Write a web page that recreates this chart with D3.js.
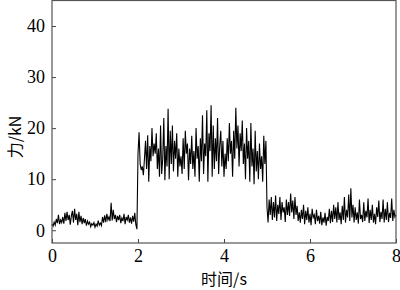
<!DOCTYPE html>
<html>
<head>
<meta charset="utf-8">
<script src="https://cdn.jsdelivr.net/npm/d3@7"></script>
<style>
  body { margin: 0; background: #fff; }
  svg { display: block; }
</style>
</head>
<body>
<svg width="400" height="290"></svg>
<script>
// sample step of the recorded force signal (s)
var dt = 0.025;

// force readings (kN), one every dt from t = 0 to t = 8
var forceStart = [
  1.2, 0.8, 1.6, 1.0, 2.2, 1.4, 3.0, 1.2, 2.0, 1.5,
  2.6, 1.3, 3.4, 1.8, 3.6, 2.0, 3.0, 1.1, 2.8, 3.8,
  1.5, 4.2, 2.0, 3.2, 1.0, 3.6, 1.6, 2.8, 1.2, 2.4,
  1.4, 2.2, 0.9, 1.8, 1.2, 1.6, 0.7, 1.3, 1.0, 1.5,
  0.6, 1.2, 0.8, 1.9, 1.0, 1.4, 0.9, 2.6, 1.5, 2.9,
  1.6, 3.2, 2.0, 2.6, 1.8, 5.4, 1.9, 4.0, 2.2, 3.0,
  1.6, 2.8, 2.0, 3.0, 1.4, 2.4, 1.8, 3.2, 1.2, 2.6,
  2.0, 3.0, 1.5, 2.5, 1.3, 2.8, 1.7, 3.4, 1.1, 0.2
];
var forceCut = [
  15.0, 19.2, 13.0, 11.8, 12.5, 10.8, 14.0, 17.5, 12.0, 18.6,
  9.5, 16.5, 13.5, 20.0, 14.5, 17.0, 15.0, 19.0, 12.0, 16.0,
  10.5, 20.5, 11.0, 14.0, 22.0, 9.8, 16.5, 12.5, 23.8, 10.0,
  19.5, 13.0, 20.5, 11.5, 17.5, 14.0, 19.0, 10.5, 16.0, 12.5,
  14.5, 11.0, 18.0, 12.0, 19.5, 15.0, 17.0, 9.8, 16.0, 13.0,
  18.5, 12.0, 15.5, 10.5, 20.0, 14.0, 16.5, 9.5, 18.0, 13.5,
  22.5, 11.0, 17.0, 14.5, 23.5, 9.5, 19.0, 15.5, 24.5, 10.5,
  20.5, 12.0, 18.0, 13.5, 22.0, 11.0, 16.5, 19.5, 12.5, 17.5,
  10.5, 15.0, 12.0, 18.0, 13.5, 21.0, 15.0, 17.5, 10.5, 19.5,
  14.0, 24.0, 16.0, 20.5, 12.5, 19.0, 15.5, 21.5, 13.0, 17.0,
  10.0, 20.0, 14.0, 17.5, 9.5, 21.0, 12.5, 16.0, 9.0, 19.5,
  11.5, 15.5, 10.0, 17.0, 12.0, 14.5, 9.5, 18.5, 13.0, 17.5
];
var forceEnd = [
  4.5, 1.5, 6.0, 3.0, 6.5, 2.0, 5.5, 2.5, 6.8, 1.8,
  5.0, 3.2, 6.5, 2.0, 5.5, 3.5, 4.5, 1.6, 6.0, 3.0,
  5.5, 2.8, 7.2, 3.5, 5.8, 2.2, 6.5, 3.0, 4.8, 1.8,
  3.5, 1.5, 4.0, 2.2, 5.0, 1.2, 3.8, 2.0, 4.5, 1.5,
  3.2, 1.0, 4.2, 2.5, 3.0, 1.2, 4.0, 1.8, 2.8, 1.3,
  3.6, 1.0, 2.5, 1.5, 3.4, 0.9, 2.6, 1.8, 4.2, 1.4,
  3.8, 1.6, 5.0, 2.2, 4.5, 1.5, 5.5, 2.0, 3.5, 1.2,
  4.8, 2.0, 6.5, 1.5, 4.0, 2.5, 7.0, 1.8, 8.2, 2.5,
  5.0, 1.5, 4.5, 2.0, 3.5, 1.3, 6.0, 2.2, 3.0, 1.6,
  5.5, 1.8, 3.8, 2.5, 6.2, 1.4, 4.0, 2.0, 5.0, 1.5,
  3.2, 1.2, 4.5, 2.6, 5.8, 1.6, 3.6, 2.2, 6.0, 1.5,
  4.2, 2.0, 5.5, 1.6, 3.4, 2.4, 6.2, 1.8, 4.0, 2.6,
  3.0
];

var xTicks = [0, 2, 4, 6, 8];
var yTicks = [0, 10, 20, 30, 40];

var svg = d3.select("svg"),
    plotLeft = 52, plotRight = 396, plotTop = 0.5, plotBottom = 243;

var serif = "'Liberation Serif', 'Times New Roman', 'DejaVu Serif', serif";

var x = d3.scaleLinear().domain([0, 8]).range([plotLeft, plotRight]),
    y = d3.scaleLinear().domain([-2.5, 45]).range([plotBottom, plotTop]);

var data = forceStart.concat(forceCut, forceEnd).map(function(v, i) {
    return {t: i * dt, f: v};
});

// signal
var line = d3.line()
    .x(d => x(d.t))
    .y(d => y(d.f));

svg.append("path")
    .datum(data)
    .attr("d", line)
    .attr("fill", "none")
    .attr("stroke", "#000")
    .attr("stroke-width", 1.1);

// axes, ticks pointing inward
var xAxis = svg.append("g")
    .attr("transform", "translate(0," + plotBottom + ")")
    .call(d3.axisBottom(x).tickValues(xTicks).tickSize(-4).tickPadding(6));

var yAxis = svg.append("g")
    .attr("transform", "translate(" + plotLeft + ",0)")
    .call(d3.axisLeft(y).tickValues(yTicks).tickSize(-4).tickPadding(7));

svg.selectAll(".domain").remove();
svg.selectAll("g").attr("font-family", null);
svg.selectAll(".tick line").attr("stroke", "#444");
svg.selectAll(".tick text")
    .style("font-family", serif)
    .style("font-size", "18px")
    .attr("fill", "#000");

// frame
svg.append("rect")
    .attr("x", plotLeft)
    .attr("y", plotTop)
    .attr("width", plotRight - plotLeft)
    .attr("height", plotBottom - plotTop)
    .attr("fill", "none")
    .attr("stroke", "#555")
    .attr("stroke-width", 1.2);

// axis titles
svg.append("text")
    .attr("x", (plotLeft + plotRight) / 2)
    .attr("y", 285)
    .attr("text-anchor", "middle")
    .style("font-family", "'Noto Sans CJK SC', sans-serif")
    .style("font-size", "16px")
    .text("时间/s");

svg.append("text")
    .attr("transform", "translate(21,137) rotate(-90)")
    .attr("text-anchor", "middle")
    .style("font-family", "'Noto Sans CJK SC', sans-serif")
    .style("font-size", "16px")
    .text("力/kN");
</script>
</body>
</html>
